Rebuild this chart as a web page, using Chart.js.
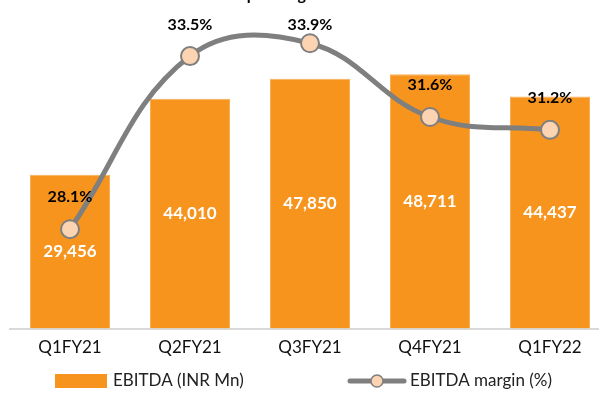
<!DOCTYPE html>
<html>
<head>
<meta charset="utf-8">
<script src="https://cdn.jsdelivr.net/npm/chart.js@4"></script>
<style>
  html, body { margin: 0; padding: 0; background: #fff; }
  #wrap { width: 599px; height: 403px; overflow: hidden; position: relative; }
  #ebitdaChart { position: absolute; left: 0; top: 0; }
</style>
</head>
<body>
<div id="wrap"><canvas id="ebitdaChart" width="611" height="403"></canvas></div>
<script>
// values
const quarters = ["Q1FY21", "Q2FY21", "Q3FY21", "Q4FY21", "Q1FY22"];
const ebitda = [29456, 44010, 47850, 48711, 44437];
const margin = [28.1, 33.5, 33.9, 31.6, 31.2];
const barLabel = "EBITDA (INR Mn)";
const lineLabel = "EBITDA margin (%)";

const ORANGE = "#F7941D";
const GREY = "#7F7F7F";
const PEACH = "#FCD4B2";
const FONT = "Lato, 'Open Sans', sans-serif";

// value labels, cut-off title and the legend
const labelsPlugin = {
  id: "labels",
  afterDatasetsDraw(chart) {
    const ctx = chart.ctx;
    ctx.save();
    ctx.textAlign = "center";
    ctx.textBaseline = "middle";

    // white numbers inside bars
    ctx.font = "bold 17px " + FONT;
    ctx.fillStyle = "#fff";
    chart.getDatasetMeta(0).data.forEach((el, i) => {
      ctx.fillText(ebitda[i].toLocaleString("en-US"), el.x, (el.y + el.base) / 2);
    });

    // margin % above points
    ctx.font = "bold 16px " + FONT;
    ctx.fillStyle = "#000";
    chart.getDatasetMeta(1).data.forEach((el, i) => {
      ctx.fillText(margin[i].toFixed(1) + "%", el.x, Math.max(el.y - 32, 25));
    });
    ctx.restore();
  },
  afterDraw(chart) {
    const ctx = chart.ctx;
    ctx.save();

    // title, only its descenders fall inside the picture
    ctx.font = "bold 16px " + FONT;
    ctx.fillStyle = "#000";
    ctx.textAlign = "left";
    ctx.textBaseline = "alphabetic";
    ctx.fillText("Operating EBITDA", 234, 0);

    // legend
    const ly = 381;
    ctx.fillStyle = ORANGE;
    ctx.fillRect(55, ly - 7, 52, 14);
    ctx.font = "17px " + FONT;
    ctx.fillStyle = "#222";
    ctx.textBaseline = "middle";
    ctx.fillText(barLabel, 113, ly);

    ctx.strokeStyle = GREY;
    ctx.lineWidth = 5;
    ctx.lineCap = "round";
    ctx.beginPath();
    ctx.moveTo(350, ly);
    ctx.lineTo(404, ly);
    ctx.stroke();
    ctx.beginPath();
    ctx.arc(377, ly, 6, 0, Math.PI * 2);
    ctx.fillStyle = PEACH;
    ctx.fill();
    ctx.lineWidth = 1.5;
    ctx.stroke();
    ctx.fillStyle = "#222";
    ctx.fillText(lineLabel, 410, ly);
    ctx.restore();
  }
};

new Chart(document.getElementById("ebitdaChart"), {
  data: {
    labels: quarters,
    datasets: [
      {
        type: "bar",
        label: barLabel,
        data: ebitda,
        yAxisID: "y",
        backgroundColor: ORANGE,
        borderColor: "#F9AE5A",
        borderWidth: 1,
        categoryPercentage: 1,
        barPercentage: 0.667,
        order: 2
      },
      {
        type: "line",
        label: lineLabel,
        data: margin,
        yAxisID: "y1",
        borderColor: GREY,
        borderWidth: 5,
        tension: 0.4,
        pointRadius: 9,
        pointBackgroundColor: PEACH,
        pointBorderColor: GREY,
        pointBorderWidth: 2,
        clip: false,
        order: 1
      }
    ]
  },
  options: {
    responsive: false,
    animation: false,
    layout: { autoPadding: false, padding: { left: 10, right: 1, top: 8, bottom: 44 } },
    plugins: {
      legend: { display: false },
      tooltip: { enabled: false }
    },
    scales: {
      x: {
        grid: { display: false },
        border: { display: true, color: "#D9D9D9", width: 2 },
        ticks: { color: "#111", font: { family: FONT, size: 17 }, padding: 1 }
      },
      y: { display: false, min: 0, max: 61400 },
      y1: { display: false, min: 25, max: 35 }
    }
  },
  plugins: [labelsPlugin]
});
</script>
</body>
</html>
